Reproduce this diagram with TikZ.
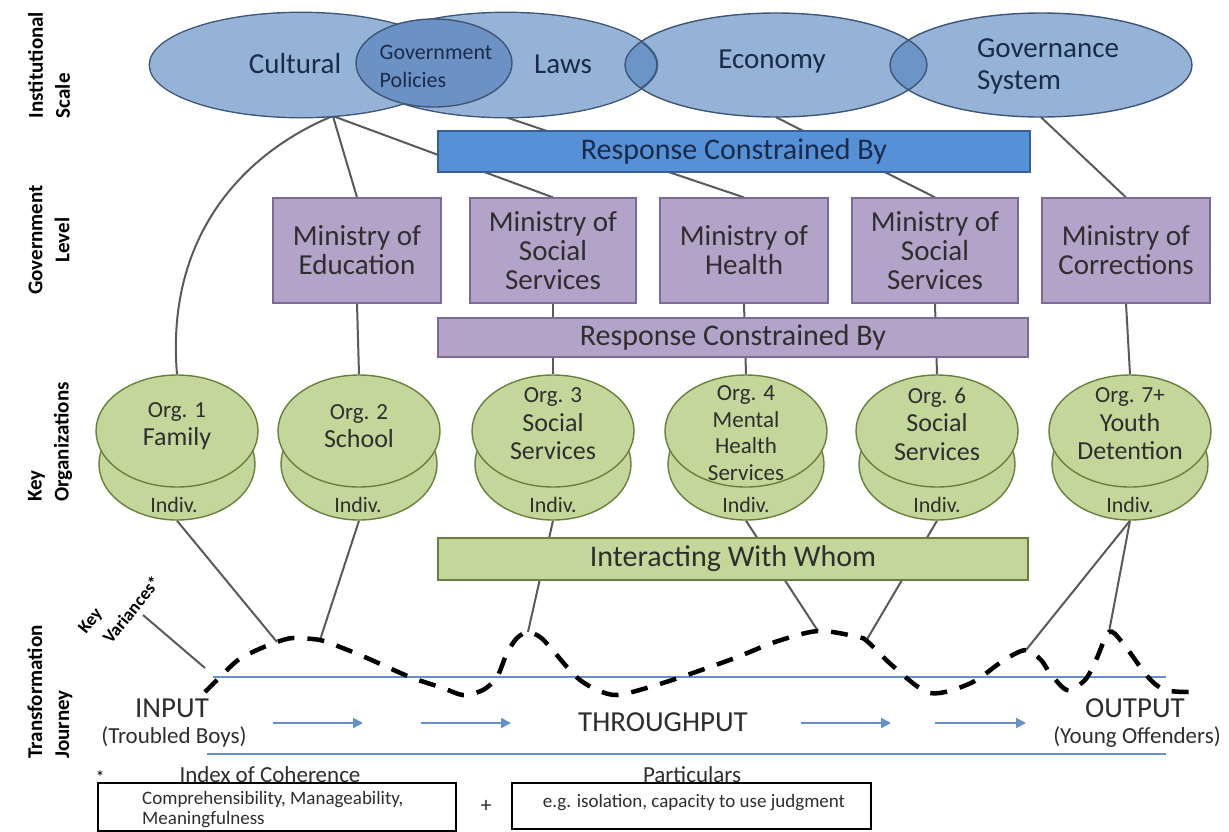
\documentclass[tikz,border=0pt]{standalone}
\usepackage{fontspec}
\setmainfont{Carlito}
\usetikzlibrary{shapes.geometric,arrows.meta}
\pgfdeclarelayer{back}
\pgfdeclarelayer{bg}
\pgfsetlayers{back,bg,main}
\definecolor{ellfill}{HTML}{4F81BD}
\definecolor{ellc}{HTML}{95B3D7}
\definecolor{elledge}{HTML}{3F5575}
\definecolor{govfill}{HTML}{6B91C5}
\definecolor{navy}{HTML}{1A2A48}
\definecolor{barblue}{HTML}{5690D6}
\definecolor{baredge}{HTML}{36609A}
\definecolor{purp}{HTML}{B4A3C9}
\definecolor{purpedge}{HTML}{7E6A99}
\definecolor{grn}{HTML}{C4D79B}
\definecolor{grnedge}{HTML}{6B7F3B}
\definecolor{connc}{HTML}{5A5A5A}
\definecolor{flowc}{HTML}{6690C8}
\definecolor{txt}{HTML}{2E2E2E}
\begin{document}
\begin{tikzpicture}[x=1pt,y=-1pt,
  conn/.style={draw=connc, line width=2pt},
  bigell/.style={ellipse, minimum width=302pt, minimum height=104pt, inner sep=0pt},
  ellrad/.style={x radius=151pt, y radius=52pt},
  govell/.style={ellipse, draw=elledge, line width=1.4pt, fill=govfill, minimum width=156pt, minimum height=88pt, inner sep=0pt},
  elltxt/.style={text=navy, font=\fontsize{29}{32}\selectfont, inner sep=0pt},
  mbox/.style={draw=purpedge, fill=purp, line width=1.2pt, minimum width=168pt, minimum height=105pt, align=center, font=\fontsize{29}{29}\selectfont, text=txt, inner sep=0pt},
  bluebar/.style={draw=baredge, fill=barblue, line width=1.2pt, minimum width=592pt, minimum height=41pt, font=\fontsize{30}{32}\selectfont, text=navy, inner sep=0pt},
  purpbar/.style={draw=purpedge, fill=purp, line width=1.2pt, minimum width=590pt, minimum height=39pt, font=\fontsize{30}{32}\selectfont, text=txt, inner sep=0pt},
  grnbar/.style={draw=grnedge, fill=grn, line width=1.2pt, minimum width=590pt, minimum height=42pt, font=\fontsize{30}{32}\selectfont, text=txt, inner sep=0pt},
  disctop/.style={ellipse, draw=grnedge, fill=grn, line width=1.4pt, minimum width=162pt, minimum height=112pt, inner sep=0pt},
  disclow/.style={ellipse, draw=grnedge, fill=grn, line width=1.4pt, minimum width=156pt, minimum height=112pt, inner sep=0pt},
  orgtxt/.style={align=center, text=txt, font=\fontsize{26}{28.5}\selectfont, inner sep=0pt},
  indtxt/.style={text=txt, font=\fontsize{22}{24}\selectfont, inner sep=0pt},
  sidelab/.style={rotate=90, font=\bfseries\fontsize{21}{27}\selectfont, text=black, inner sep=0pt},
  dashcurve/.style={line width=4.5pt, dash pattern=on 17pt off 13pt, black},
  flowline/.style={draw=flowc, line width=2pt},
  flowarrow/.style={draw=flowc, line width=2pt, -{Triangle[length=10pt,width=10pt]}},
  journey/.style={text=txt, font=\fontsize{29}{31}\selectfont, inner sep=0pt},
  journeysub/.style={text=txt, font=\fontsize{23}{25}\selectfont, inner sep=0pt},
  keybox/.style={draw=black, line width=1.8pt, fill=white},
  kvlab/.style={rotate=51, anchor=base west, font=\bfseries\fontsize{18}{22}\selectfont, inner sep=0pt},
]
\begin{pgfonlayer}{back}
\fill[white] (0,0) rectangle (1229,831);
\end{pgfonlayer}
\useasboundingbox (0,0) rectangle (1229,831);

% ---------- institutional ellipses ----------
\node[bigell] (cult) at (301,65) {};
\node[bigell] (laws) at (506,65) {};
\node[bigell] (econ) at (776,65) {};
\node[bigell] (govs) at (1041,65) {};
% union of Cultural and Laws: outer outline only
\draw[elledge, line width=2.8pt] (cult.center) ellipse [ellrad] (laws.center) ellipse [ellrad];
\fill[ellc] (cult.center) ellipse [ellrad] (laws.center) ellipse [ellrad];
% Economy and Governance overlapping, translucent
\fill[ellfill, fill opacity=0.6] (econ.center) ellipse [ellrad];
\fill[ellfill, fill opacity=0.6] (govs.center) ellipse [ellrad];
\draw[elledge, line width=1.4pt] (econ.center) ellipse [ellrad] (govs.center) ellipse [ellrad];
\begin{scope}
  \clip (econ.center) ellipse [ellrad];
  \draw[elledge, line width=1.4pt] (laws.center) ellipse [ellrad];
\end{scope}
\node[govell] (gpol) at (434,63) {};
\node[elltxt] (tcult) at (295,64) {Cultural};
\node[elltxt, align=left, font=\fontsize{22}{28}\selectfont] (tgpol) at (436,66) {Government\\Policies};
\node[elltxt] (tlaws) at (563,64) {Laws};
\node[elltxt] (tecon) at (772,62) {Economy};
\node[elltxt, align=left] (tgovs) at (1048,66) {Governance\\System};

% ---------- bars ----------
\node[bluebar] (rc1) at (734,151.5) {Response Constrained By};
\node[purpbar] (rc2) at (733,337.5) {Response Constrained By};
\node[grnbar] (iww) at (733,559) {Interacting With Whom};

% ---------- ministries ----------
\node[mbox] (mEd) at (357,250.5) {Ministry of\\Education};
\node[mbox, minimum width=166pt] (mSS1) at (553,250.5) {Ministry of\\Social\\Services};
\node[mbox] (mH) at (744,250.5) {Ministry of\\Health};
\node[mbox, minimum width=166pt] (mSS2) at (935,250.5) {Ministry of\\Social\\Services};
\node[mbox] (mC) at (1126,250.5) {Ministry of\\Corrections};

% ---------- organisations ----------
\node[disclow] (o1b) at (177,464) {};
\node[disctop] (o1) at (177,431) {};
\node[indtxt] (i1) at (174,505) {Indiv.};
\node[orgtxt] (t1) at (177,426) {{\fontsize{23}{27}\selectfont Org. 1}\\Family};

\node[disclow] (o2b) at (359,464) {};
\node[disctop] (o2) at (359,431) {};
\node[indtxt] (i2) at (358,505) {Indiv.};
\node[orgtxt] (t2) at (359,426) {{\fontsize{23}{27}\selectfont Org. 2}\\School};

\node[disclow] (o3b) at (553,464) {};
\node[disctop] (o3) at (553,431) {};
\node[indtxt] (i3) at (553,505) {Indiv.};
\node[orgtxt] (t3) at (553,424) {{\fontsize{23}{27}\selectfont Org. 3}\\Social\\Services};

\node[disclow] (o4b) at (746,464) {};
\node[disctop] (o4) at (746,431) {};
\node[indtxt] (i4) at (746,505) {Indiv.};
\node[orgtxt, font=\fontsize{23}{26.5}\selectfont] (t4) at (746,433) {Org. 4\\Mental\\Health\\Services};

\node[disclow] (o6b) at (937,464) {};
\node[disctop] (o6) at (937,431) {};
\node[indtxt] (i6) at (937,505) {Indiv.};
\node[orgtxt] (t6) at (937,424) {{\fontsize{23}{27}\selectfont Org. 6}\\Social\\Services};

\node[disclow] (o7b) at (1130,464) {};
\node[disctop] (o7) at (1130,431) {};
\node[indtxt] (i7) at (1130,505) {Indiv.};
\node[orgtxt] (t7) at (1130,424) {{\fontsize{23}{27}\selectfont Org. 7+}\\Youth\\Detention};

% ---------- side labels ----------
\node[sidelab, align=left] (lInst) at (49,65) {Institutional\\Scale};
\node[sidelab, align=center] (lGov) at (49,240) {Government\\Level};
\node[sidelab, align=left] (lOrg) at (50,442) {Key\\Organizations};
\node[sidelab, align=left] (lTra) at (50,692) {Transformation\\Journey};
\node[kvlab] (lKey) at (86,635) {Key};
\node[kvlab] (lVar) at (111,645) {Variances*};

% ---------- transformation journey ----------
\coordinate (ul1) at (213,677); \coordinate (ul2) at (1166,677);
\coordinate (ll1) at (207,754); \coordinate (ll2) at (1166,754);
\draw[flowline] (ul1) -- (ul2);
\draw[flowline] (ll1) -- (ll2);
\coordinate (a1s) at (273,723); \coordinate (a1e) at (363,723);
\coordinate (a2s) at (421,723); \coordinate (a2e) at (511,723);
\coordinate (a3s) at (801,723); \coordinate (a3e) at (891,723);
\coordinate (a4s) at (935,723); \coordinate (a4e) at (1026,723);
\draw[flowarrow] (a1s) -- (a1e);
\draw[flowarrow] (a2s) -- (a2e);
\draw[flowarrow] (a3s) -- (a3e);
\draw[flowarrow] (a4s) -- (a4e);
\node[journey] (inp) at (172,708) {INPUT};
\node[journeysub] (inps) at (174,737) {(Troubled Boys)};
\node[journey] (thr) at (663,722) {THROUGHPUT};
\node[journey] (outp) at (1135,708) {OUTPUT};
\node[journeysub] (outps) at (1137,737) {(Young Offenders)};

% dashed key-variances curve
\draw[dashcurve] plot[smooth, tension=0.5] coordinates {(205,692) (220,677) (238,660) (257,650) (277,642) (293,638) (320,640) (340,647) (367,658) (410,677) (443,688) (463,695) (483,690) (497,677) (507,653) (517,638) (528,632) (540,637) (550,647) (567,667) (580,680) (597,690) (617,695) (650,687) (687,675) (735,658) (775,642) (818,631) (858,637) (868,642) (894,667) (930,693) (971,683) (1004,660) (1026,650) (1041,660) (1050,673) (1067,690) (1085,680) (1096,660) (1109,632) (1122,642) (1148,677) (1165,690) (1190,692)};
\coordinate (v1) at (277,642);
\coordinate (v2) at (320,640);
\coordinate (v3) at (528,632);
\coordinate (v4) at (818,631);
\coordinate (v5) at (866,641);
\coordinate (v6) at (1026,650);
\coordinate (v7) at (1109,632);
\coordinate (kvA) at (143,615);
\coordinate (kvB) at (205,668);

% ---------- key at the bottom ----------
\node[font=\fontsize{18}{20}\selectfont, inner sep=0pt] (star) at (100,777) {*};
\node[anchor=base, text=txt, font=\fontsize{23}{25}\selectfont, inner sep=0pt] (idx) at (270,782) {Index of Coherence};
\node[anchor=base, text=txt, font=\fontsize{23}{25}\selectfont, inner sep=0pt] (part) at (692,782) {Particulars};
\node[keybox, minimum width=358pt, minimum height=48pt, inner sep=0pt] (kb1) at (277,807) {};
\node[keybox, minimum width=359pt, minimum height=46pt, inner sep=0pt] (kb2) at (691.5,806) {};
\node[anchor=west, align=left, text=txt, font=\fontsize{19}{20}\selectfont, inner sep=0pt] (kb1t) at (142,810) {Comprehensibility, Manageability,\\Meaningfulness};
\node[text=txt, font=\fontsize{19}{21}\selectfont, inner sep=0pt] (kb2t) at (694,803) {e.g. isolation, capacity to use judgment};
\node[text=txt, font=\fontsize{22}{24}\selectfont, inner sep=0pt] (plus) at (486,806) {+};

% ---------- connectors (behind) ----------
\begin{pgfonlayer}{bg}
\draw[conn] (cult.-58) .. controls (250,150) and (165,230) .. (o1.north);
\draw[conn] (cult.-58) -- (mEd.north);
\draw[conn] (cult.-58) -- (mSS1.north);
\draw[conn] (laws.south) -- (mH.north);
\draw[conn] (econ.south) -- (mSS2.north);
\draw[conn] (govs.south) -- (mC.north);
\draw[conn] (mEd.south) -- (o2.north);
\draw[conn] (mSS1.south) -- (o3.north);
\draw[conn] (mH.south) -- (o4.north);
\draw[conn] (mSS2.south) -- (o6.north);
\draw[conn] (mC.south) -- (o7.north);
\draw[conn] (o1b.south) -- (v1);
\draw[conn] (o2b.south) -- (v2);
\draw[conn] (o3b.south) -- (v3);
\draw[conn] (o4b.south) -- (v4);
\draw[conn] (o6b.south) -- (v5);
\draw[conn] (o7b.south) -- (v6);
\draw[conn] (o7b.south) -- (v7);
\draw[conn] (kvA) -- (kvB);
\end{pgfonlayer}
\end{tikzpicture}
\end{document}
